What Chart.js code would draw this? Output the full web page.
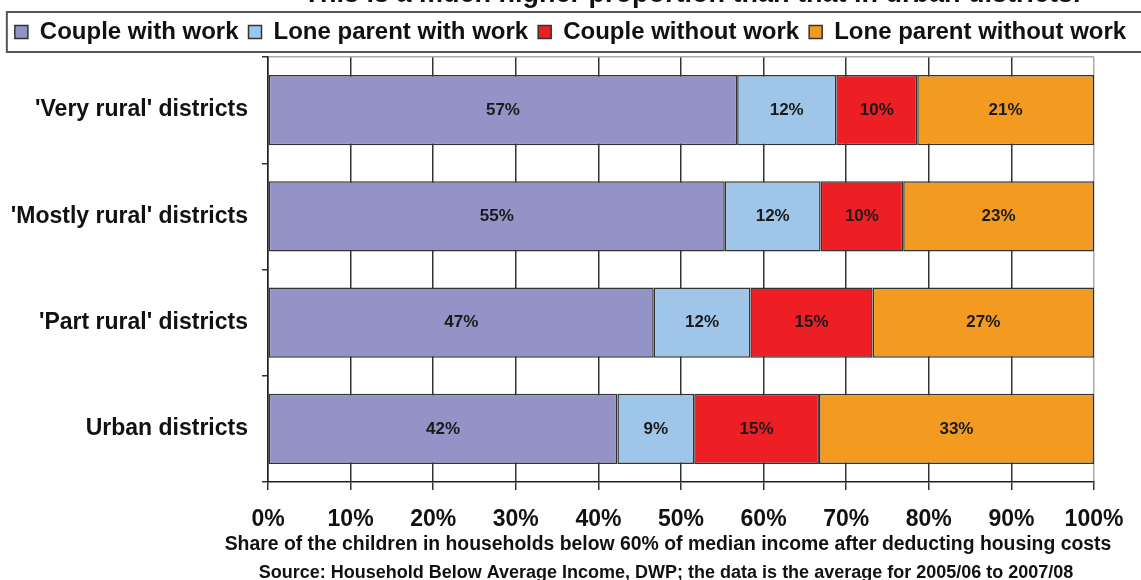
<!DOCTYPE html>
<html>
<head>
<meta charset="utf-8">
<title>Child poverty by household type and district</title>
<script src="https://cdn.jsdelivr.net/npm/chart.js@4"></script>
<style>
  body { margin: 0; background: #fff; }
  #wrap { position: relative; width: 1141px; height: 580px; }
</style>
</head>
<body>
<div id="wrap"><canvas id="povertyChart"></canvas></div>
<script>
const districts = ["'Very rural' districts", "'Mostly rural' districts", "'Part rural' districts", 'Urban districts'];
const coupleWithWork = [56.8, 55.3, 46.7, 42.3];
const loneWithWork = [12.0, 11.6, 11.7, 9.3];
const coupleWithoutWork = [9.8, 10.0, 14.8, 15.1];
const loneWithoutWork = [21.4, 23.1, 26.8, 33.3];
const xTicks = [0, 10, 20, 30, 40, 50, 60, 70, 80, 90, 100];

const titleText = 'This is a much higher proportion than that in urban districts.';
const axisTitle = 'Share of the children in households below 60% of median income after deducting housing costs';
const sourceText = 'Source: Household Below Average Income, DWP; the data is the average for 2005/06 to 2007/08';

Chart.defaults.font.family = '"Liberation Sans", Arial, sans-serif';
Chart.defaults.color = '#111';

// % labels in the middle of each segment
const segmentLabels = {
    id: 'segmentLabels',
    afterDatasetsDraw(chart) {
        const ctx = chart.ctx;
        ctx.save();
        ctx.font = 'bold 17px "Liberation Sans", Arial, sans-serif';
        ctx.fillStyle = '#1a1a1a';
        ctx.textAlign = 'center';
        ctx.textBaseline = 'middle';
        chart.data.datasets.forEach((ds, di) => {
            chart.getDatasetMeta(di).data.forEach((bar, i) => {
                const p = bar.getProps(['x', 'y', 'base'], true);
                ctx.fillText(Math.round(ds.data[i]) + '%', (p.x + p.base) / 2, p.y);
            });
        });
        ctx.restore();
    }
};

// cut-off heading, axis caption, legend frame and source line
const extras = {
    id: 'extras',
    beforeInit(chart) {
        const legend = chart.legend;
        if (!legend) return;
        const fit = legend.fit;
        legend.fit = function () {
            fit.call(this);
            this.height = 47;
        };
    },
    afterDraw(chart) {
        const ctx = chart.ctx;
        const area = chart.chartArea;
        const mid = (area.left + area.right) / 2;
        const legend = chart.legend;
        ctx.save();
        ctx.fillStyle = '#111';
        ctx.textAlign = 'center';
        ctx.font = 'bold 27px "Liberation Sans", Arial, sans-serif';
        ctx.textBaseline = 'alphabetic';
        ctx.fillText(titleText, mid + 11, 2);

        ctx.textBaseline = 'middle';
        ctx.font = 'bold 19.4px "Liberation Sans", Arial, sans-serif';
        ctx.fillText(axisTitle, mid - 13, area.bottom + 63);

        ctx.font = 'bold 18px "Liberation Sans", Arial, sans-serif';
        ctx.fillText(sourceText, mid - 15, 573);

        const boxes = legend.legendHitBoxes;
        ctx.strokeStyle = '#555';
        ctx.lineWidth = 2;
        ctx.strokeRect(boxes[0].left - 8, legend.top + 2, chart.width, 40);
        ctx.restore();
    }
};

const makeSet = (label, data, color) => ({
    label: label,
    data: data,
    backgroundColor: color,
    borderColor: '#333',
    borderWidth: 1.5,
    borderSkipped: false
});

new Chart(document.getElementById('povertyChart'), {
    type: 'bar',
    data: {
        labels: districts,
        datasets: [
            makeSet('Couple with work', coupleWithWork, '#9393c7'),
            makeSet('Lone parent with work', loneWithWork, '#9fc5e8'),
            makeSet('Couple without work', coupleWithoutWork, '#ed1f24'),
            makeSet('Lone parent without work', loneWithoutWork, '#f39a21')
        ]
    },
    options: {
        indexAxis: 'y',
        responsive: true,
        maintainAspectRatio: false,
        animation: false,
        barPercentage: 0.66,
        categoryPercentage: 1,
        layout: { padding: { top: 10, left: 0, right: 0, bottom: 23 } },
        plugins: {
            legend: {
                position: 'top',
                labels: {
                    boxWidth: 13,
                    boxHeight: 13,
                    padding: 10,
                    color: '#111',
                    font: { size: 24, weight: 'bold' }
                }
            },
            tooltip: { enabled: false }
        },
        scales: {
            x: {
                stacked: true,
                min: 0,
                max: 100,
                afterBuildTicks(scale) {
                    scale.ticks = xTicks.map(v => ({ value: v }));
                },
                afterFit(scale) {
                    scale.height = 75;
                    scale.paddingRight = 47;
                },
                ticks: {
                    padding: 16,
                    color: '#111',
                    font: { size: 23, weight: 'bold' },
                    callback: v => v + '%'
                },
                grid: {
                    color: c => (c.tick && c.tick.value === 100) ? '#aaa' : '#333',
                    tickColor: '#333',
                    lineWidth: 1.5,
                    tickLength: 8
                },
                border: { color: '#222', width: 1.5 }
            },
            y: {
                stacked: true,
                afterFit(scale) {
                    scale.width = 268;
                },
                ticks: {
                    padding: 14,
                    color: '#111',
                    font: { size: 23, weight: 'bold' }
                },
                grid: {
                    offset: true,
                    color: c => c.index === 0 ? '#aaa' : 'rgba(0,0,0,0)',
                    tickColor: '#333',
                    lineWidth: 1.5,
                    tickLength: 6
                },
                border: { color: '#222', width: 1.5 }
            }
        }
    },
    plugins: [segmentLabels, extras]
});
</script>
</body>
</html>
